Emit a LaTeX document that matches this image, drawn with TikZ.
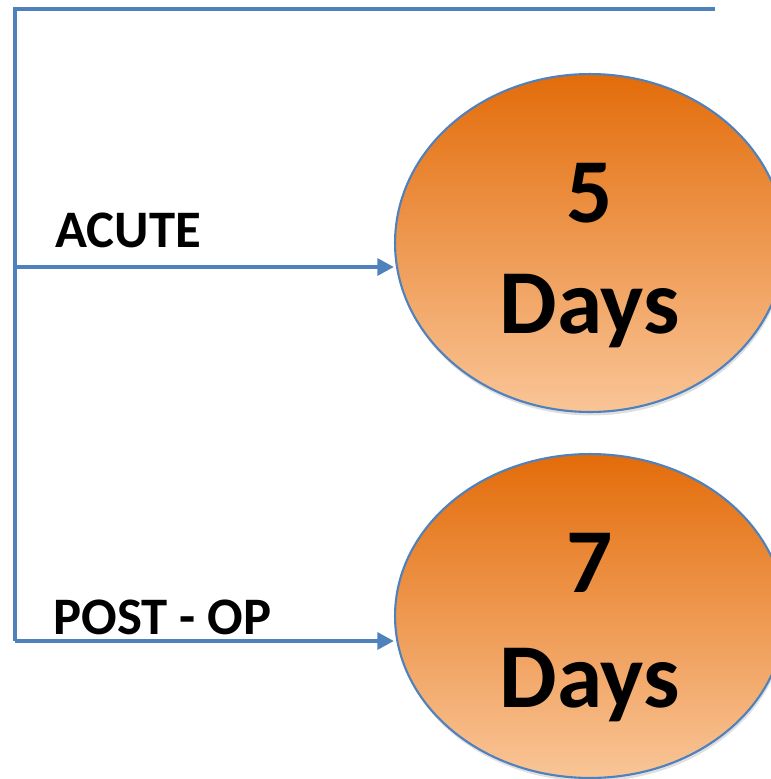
\documentclass[tikz,border=0pt]{standalone}
\usepackage{fontspec}
\setmainfont{Carlito}
\usetikzlibrary{positioning,arrows.meta,shapes.geometric,shadows}
\definecolor{pathblue}{HTML}{4F81BD}
\definecolor{dayorange}{HTML}{E36C0A}
\definecolor{daypeach}{HTML}{F9C597}
\tikzset{
  route line/.style={draw=pathblue,line width=2.8pt},
  route arrow/.style={route line,-{Triangle[length=3.3mm,width=3.3mm]}},
  day ellipse/.style={ellipse,draw=pathblue,line width=1.2pt,
    minimum width=7.8cm,top color=dayorange,bottom color=daypeach,
    drop shadow={shadow xshift=0.02cm,shadow yshift=-0.07cm,opacity=0.25}},
  day number/.style={anchor=base,inner sep=0pt,
    font=\fontsize{52}{64}\selectfont\bfseries},
  case label/.style={anchor=base west,inner sep=0pt,
    font=\fontsize{30}{36}\selectfont\bfseries}
}

\begin{document}
\begin{tikzpicture}[x=0.02cm,y=-0.02cm]
  \useasboundingbox (0,0) rectangle (771,779);

  % Duration ellipses.
  \node[day ellipse,minimum height=6.76cm] (acute) at (590,243) {};
  \node[day ellipse,minimum height=6.48cm] (postop) at (590,616) {};
  \node[day number] (acute-n) at (590,222) {5};
  \node[day number] (acute-d) at (590,333) {Days};
  \node[day number] (postop-n) at (590,592) {7};
  \node[day number] (postop-d) at (590,707) {Days};

  % Branches.
  \coordinate (topleft) at (15,9);
  \coordinate (topright) at (715,9);
  \coordinate (acute-start) at (15,267);
  \coordinate (postop-start) at (15,641);
  \draw[route line] (topright) -- (topleft) -- (postop-start);
  \draw[route arrow] (acute-start) -- (acute.west |- acute-start);
  \draw[route arrow] (postop-start) -- (postop.west |- postop-start);

  \node[case label] (acute-l) at (55,247) {ACUTE};
  \node[case label] (postop-l) at (53,634) {POST - OP};
\end{tikzpicture}
\end{document}
